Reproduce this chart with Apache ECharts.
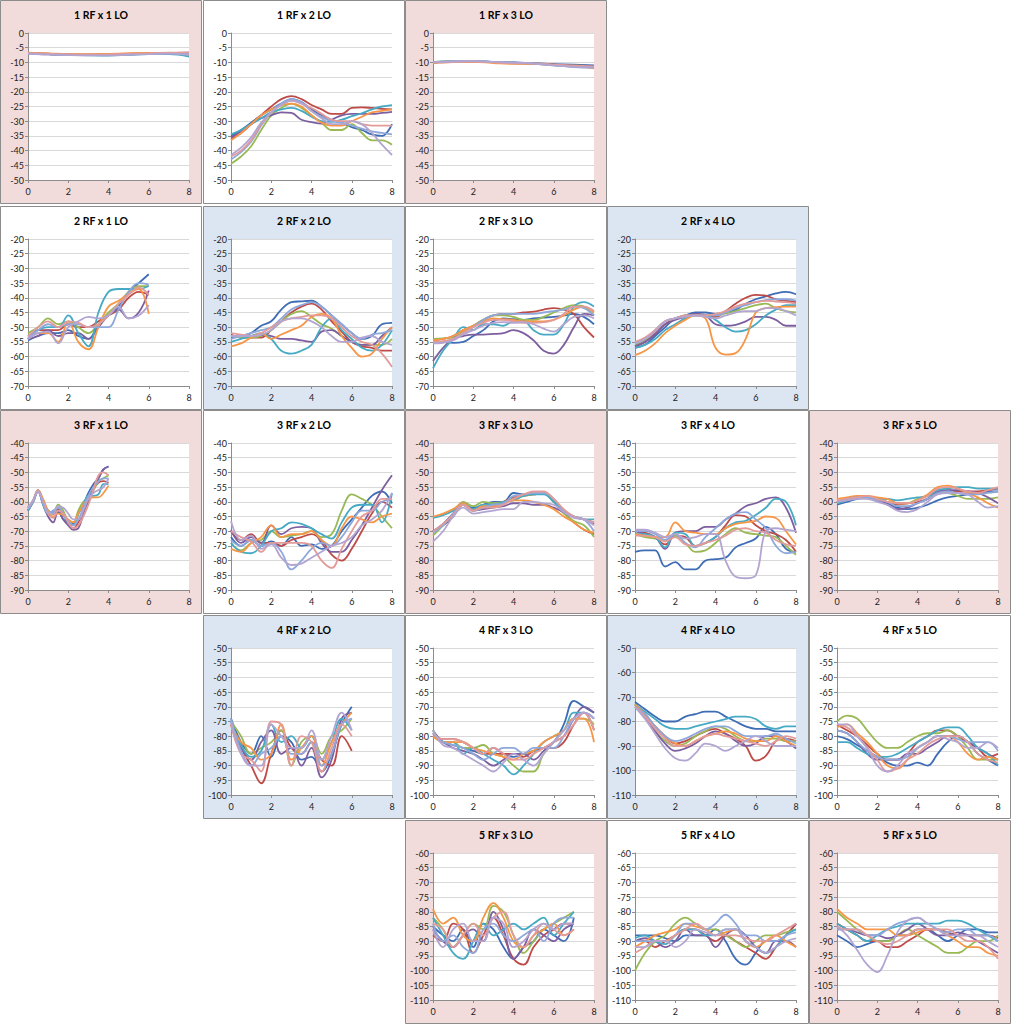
<!DOCTYPE html>
<html><head><meta charset="utf-8">
<script src="https://cdn.jsdelivr.net/npm/echarts@6/dist/echarts.min.js"></script>
<style>html,body{margin:0;padding:0;background:#fff}#c{width:1013px;height:1024px}</style>
</head><body><div id="c"></div>
<script>
// ---------- x values ----------
const X8  = [0,1,2,3,4,5,6,7,8];
const X8H = [0,0.5,1,1.5,2,2.5,3,3.5,4,4.5,5,5.5,6,6.5,7,7.5,8];
const X7H = [0,0.5,1,1.5,2,2.5,3,3.5,4,4.5,5,5.5,6,6.5,7];
const X6H = [0,0.5,1,1.5,2,2.5,3,3.5,4,4.5,5,5.5,6];
const X4Q = [0,0.25,0.5,0.75,1,1.25,1.5,1.75,2,2.25,2.5,2.75,3,3.25,3.5,3.75,4];

// ---------- series values (9 series per panel) ----------
const d11 = [
 [-7,-7.2,-7.4,-7.5,-7.5,-7.3,-7.1,-7,-7],
 [-6.8,-7,-7.3,-7.4,-7.2,-7,-6.9,-6.8,-7.2],
 [-7,-7.2,-7.4,-7.5,-7.5,-7.3,-7,-6.8,-7.5],
 [-7,-7.3,-7.4,-7.4,-7.3,-7.2,-7,-6.8,-6.7],
 [-7,-7.2,-7.4,-7.6,-7.7,-7.4,-7.2,-7.2,-8],
 [-6.7,-6.9,-7.2,-7.2,-7.1,-6.9,-6.8,-6.8,-7.3],
 [-6.9,-7.2,-7.4,-7.5,-7.5,-7.3,-7.1,-6.9,-6.8],
 [-6.9,-7.1,-7.3,-7.4,-7.3,-7.1,-6.9,-6.7,-6.6],
 [-7.1,-7.3,-7.5,-7.6,-7.6,-7.4,-7.2,-7,-7.4]
];
const d12 = [
 [-35,-33,-30.5,-28,-26,-24,-22.5,-23.5,-26,-28,-29.5,-30.5,-32,-33,-34.5,-35,-31],
 [-36,-34,-31,-28,-25,-22.5,-21.5,-22.5,-24.5,-26,-27.5,-27.5,-25.5,-25.3,-25.5,-25.8,-26],
 [-44.5,-42,-38.5,-33,-28,-25.5,-24,-25.5,-28,-30.5,-33,-33,-31,-34,-36.5,-36.5,-38],
 [-35.5,-33.5,-31,-29,-28,-27,-27.2,-29.5,-30.3,-30.8,-29.5,-28,-27.5,-27.5,-27.5,-27.2,-26.8],
 [-34.5,-33,-31,-29,-27,-26,-25.5,-26.5,-28.5,-30,-30.2,-29.5,-28.3,-27.3,-26,-25,-24.5],
 [-36.5,-34,-31,-28,-26,-24.5,-24,-25,-28,-30.5,-31.5,-31.5,-30,-28.5,-27,-26.5,-26],
 [-43,-40.5,-37,-31.5,-27,-24,-22.5,-23.5,-26.5,-28.5,-30,-30.5,-31.5,-32.5,-33.5,-34,-34.5],
 [-42,-40,-36.5,-31,-27,-24.5,-23,-24,-25.5,-27.5,-29.5,-30,-30,-31,-31.5,-31.5,-31.5],
 [-41.5,-39,-35.5,-30.5,-27,-24.5,-23,-24,-26.5,-29,-31,-31,-30,-31,-34,-38,-41.5]
];
const d13 = [
 [-10,-9.7,-9.6,-9.8,-10,-10.3,-10.6,-10.8,-11],
 [-10,-9.7,-9.7,-9.9,-10.2,-10.4,-10.8,-11.2,-11.5],
 [-9.9,-9.6,-9.6,-9.8,-10.1,-10.3,-10.8,-11,-11.3],
 [-10.1,-9.8,-9.7,-9.9,-10.1,-10.3,-10.7,-11,-11.2],
 [-10,-9.7,-9.6,-9.9,-10.2,-10.5,-11,-11.4,-11.5],
 [-10.2,-9.9,-9.8,-10.2,-10.5,-10.5,-10.9,-11.3,-12],
 [-9.9,-9.6,-9.5,-9.8,-10,-10.3,-10.9,-11.6,-11.8],
 [-10,-9.8,-9.7,-10,-10.3,-10.4,-10.8,-11.1,-11.4],
 [-10,-9.7,-9.6,-9.8,-10.1,-10.4,-11,-11.5,-11.6]
];
const d21 = [
 [-54.5,-53,-52,-52,-51,-53,-54,-49,-46,-43,-38,-35,-32],
 [-54,-51,-51,-51,-49,-50,-50,-48,-46,-44,-40,-38,-39],
 [-52,-50,-47,-49,-48,-50,-52,-49,-45,-42,-38,-36,-36],
 [-54,-53,-51,-53,-52,-52,-54,-50,-46,-44,-47,-45,-37.5],
 [-53,-51,-50,-50,-46,-52,-56.5,-45,-38,-37,-37,-37,-36],
 [-54,-52,-52,-55,-48,-55,-57.5,-50,-43,-41,-38.5,-37,-45.5],
 [-53.5,-51,-49,-50,-49,-49,-50,-50,-50,-44,-38,-35,-35.5],
 [-53,-50,-48,-50,-48,-48.5,-50,-49,-46,-42,-39,-36.5,-39],
 [-54,-52,-51.5,-55.5,-50,-48,-46.5,-47,-46,-43,-47,-46,-42.5]
];
const d22 = [
 [-53.5,-53,-52,-49.5,-48,-44,-41.5,-41.2,-41,-43,-46,-49,-52,-54,-53,-49,-48.5],
 [-52.5,-53.5,-53.5,-53.5,-51,-48,-45,-43,-42,-44,-48,-51.5,-55,-56.5,-57,-58,-58],
 [-53,-53.5,-53.5,-53,-51,-48,-45.5,-44.5,-46.5,-49,-50.5,-53,-55,-56,-56,-56,-54],
 [-53,-53,-53,-52.5,-53,-54,-54,-54.5,-55,-51.5,-51,-53,-55,-56,-56,-53,-50],
 [-55,-54,-53,-52,-54,-58,-59,-58,-56,-50,-47,-51,-54,-57,-58,-56,-51],
 [-56.5,-55.5,-53.5,-52,-54,-52.5,-51,-49.5,-46.5,-45.5,-47,-53,-57,-60,-59,-54,-50],
 [-54,-53,-52,-51,-50,-47,-44,-42.5,-41.5,-43,-46,-49,-52,-54,-52.5,-52,-51],
 [-52,-52.5,-53,-52,-50,-48,-47,-46.5,-46,-46,-47,-50,-53,-55,-56,-59,-63.5],
 [-53,-53,-53,-52.5,-51,-48,-47,-47,-48,-50,-53,-55,-55,-53.5,-53,-55,-56]
];
const d23 = [
 [-55,-55,-55.3,-55,-53,-51,-48,-47,-47.3,-47.5,-47,-46.7,-46.5,-46,-45.5,-46.5,-49],
 [-54.5,-54,-53,-51,-49.5,-47.5,-46,-45.5,-45.5,-45,-44.7,-44,-43.5,-44,-45.5,-50,-53.5],
 [-54,-53.8,-53.5,-51.5,-49.5,-47.5,-46,-46,-46.5,-47.5,-47.5,-46.5,-45,-43.5,-42.5,-43,-46],
 [-61.5,-57,-54,-53,-52.5,-52.5,-52.3,-52,-51,-52,-54.5,-58,-59,-56,-50,-45.5,-46],
 [-64,-58,-54,-50,-51,-49,-49,-49.5,-48,-48,-51,-52.5,-52.5,-49,-43,-41.5,-43],
 [-54.5,-54,-53,-51,-49.5,-48,-47,-47.3,-47.5,-48,-48,-48,-47.5,-46,-44,-43,-45],
 [-55,-55,-54,-52,-50,-47.5,-46,-45.5,-45.5,-45.5,-45.5,-45,-44.5,-44,-43,-43.5,-46],
 [-55,-54.7,-54,-52,-50,-48.5,-47.5,-47.5,-48,-48.5,-48.5,-48.3,-47.5,-45.5,-43,-43,-44.5],
 [-55.5,-55.3,-54.5,-52.5,-51,-49.5,-48.5,-48.3,-48.5,-48.3,-49,-50.5,-51.5,-49,-46.5,-46,-47]
];
const d24 = [
 [-57,-56,-53,-50,-47,-46,-45,-45,-45.5,-45,-44,-42,-40.5,-39.5,-38.5,-38,-38.8],
 [-56.5,-55,-52,-49,-47,-46.5,-45.5,-46,-46.5,-44.5,-42,-40,-39,-39.3,-40.5,-41,-41.5],
 [-56,-54.5,-51,-48,-47,-46,-46,-46,-46,-45.3,-44.5,-43.5,-42.5,-42,-43.5,-44.5,-45],
 [-56.5,-55,-52.5,-49,-47.5,-46.5,-45.5,-46,-49,-49.5,-49.2,-48,-46.5,-46.5,-47.5,-49.5,-49.5],
 [-57,-56,-54,-51,-49,-47,-46,-46,-47.5,-50,-51.5,-51,-49,-46,-44,-42.5,-42.5],
 [-59.5,-58,-55.5,-52,-49.5,-47.5,-46,-47,-57,-59.3,-58.8,-54,-45,-43.5,-43.2,-43,-43],
 [-55.5,-54,-51,-48,-47,-46,-46,-46,-46,-45,-43.5,-42.5,-41.5,-40.8,-40.5,-40.5,-41],
 [-55,-53.5,-51,-48,-47,-46,-46,-46,-45.5,-44.5,-43,-42,-41.5,-41,-41.3,-41.5,-42],
 [-55.5,-54,-51.5,-48,-47,-46.5,-46,-46.5,-47,-46,-45,-44.5,-44.5,-43.5,-43.5,-44.5,-46]
];
const d31 = [
 [-63,-60,-56,-60,-63,-64,-63.5,-66,-67,-67.5,-64,-61,-57,-54,-52,-49,-48],
 [-62,-60,-56,-60,-63.5,-64,-62.5,-64,-67,-69,-67,-63,-60,-56,-53.5,-53,-53.5],
 [-62,-60,-56,-60,-63,-63.5,-61,-63,-66.5,-67,-63,-60,-59,-56,-53,-52,-51],
 [-63,-60,-56.5,-61,-65,-67,-63,-66,-68,-69.5,-69,-64,-59,-55,-52,-49,-48],
 [-63,-60,-56,-61,-64,-63.5,-62,-64.5,-67,-68,-64,-61,-58,-58,-57.5,-54,-54],
 [-62,-59.5,-56,-59,-63,-65,-64,-64.5,-66,-67,-64,-61,-59,-58.5,-58.5,-57,-54.5],
 [-62.5,-60,-56.5,-60.5,-64,-63,-62,-64,-66.5,-68,-66,-62,-58,-55,-53,-52,-52],
 [-62,-59.5,-56,-60,-64,-65.5,-63,-64,-67,-69,-68,-65,-61,-56,-51,-50,-51],
 [-62,-59.5,-56.5,-60,-63.5,-64,-61.5,-62,-64,-66,-66,-63,-59,-57,-56,-55,-52]
];
const d32 = [
 [-72,-75,-73,-75,-73.5,-75,-72,-75,-74.5,-76,-75,-70,-66,-62,-58,-56.5,-60.5],
 [-70,-73,-71,-74,-74,-75,-73,-72,-71,-73,-78,-80,-76,-70,-64,-60,-62],
 [-74,-76.5,-74,-73,-70,-72,-71.5,-71,-70,-72,-71,-63,-57.5,-59,-61,-65,-69],
 [-69.5,-74,-72,-74,-68,-71,-69,-68.5,-69,-74,-77,-77,-73,-68,-62,-56,-51],
 [-74,-77,-77.5,-75,-70,-69,-67,-67.5,-69,-71,-72.5,-67,-62,-61,-61,-67,-57],
 [-76,-77,-74,-72,-68,-72,-71,-71,-70,-73,-75,-69,-65,-66,-67,-65,-64],
 [-73,-75,-73,-75,-74,-77,-83,-80,-76,-74,-75,-72,-67,-63,-63,-60,-59],
 [-70,-72,-73.5,-77,-74,-74,-74,-74,-75,-80,-82.5,-76,-70,-65,-63,-59,-59],
 [-66.5,-73,-71.5,-76,-74.5,-79,-81.5,-81,-79,-77,-75,-74,-72,-68,-66,-63,-57]
];
const d33 = [
 [-70,-68,-65,-61,-62,-61,-60,-60,-57,-57.5,-57,-57,-60,-63,-65,-66,-67],
 [-70,-68,-64.5,-61,-62.5,-62,-61.5,-60,-58.5,-58,-57.5,-57,-60,-63.5,-67,-69.5,-71],
 [-71.5,-68,-64,-60,-61.5,-60,-60.5,-60,-59,-58,-57.5,-57,-60,-64,-66.5,-68,-72],
 [-70,-67.5,-64,-61,-63,-62.5,-62,-61.5,-60.5,-60.5,-61,-61,-62,-63.5,-65,-66,-67.5],
 [-65.5,-64.5,-63,-60.5,-62.5,-61,-61,-60,-59.5,-58,-57.5,-57.5,-60,-63,-65,-66,-66],
 [-65,-64,-62.5,-60.5,-63,-61.5,-61.5,-60.5,-59.5,-59.5,-60,-61,-62.5,-65,-67,-69.5,-70.5],
 [-70.5,-68,-64,-61,-63,-62,-61,-60.5,-58,-57.5,-57,-57,-59,-63,-65,-66,-70],
 [-70,-67.5,-64.5,-61,-63,-62,-62,-61,-59,-57.5,-56.5,-56.5,-59,-62.5,-65,-66,-67],
 [-73.5,-70,-65,-62,-64,-63.5,-63,-62.5,-62.5,-60,-60,-60.5,-61,-63.5,-65.5,-66,-68]
];
const d34 = [
 [-77,-76.5,-76.5,-82,-80.5,-83,-83,-80,-79.5,-79,-75.5,-74,-72.5,-68.5,-71,-76,-77],
 [-70,-70.5,-72,-74.5,-71.5,-72,-75,-74,-72,-68,-64.5,-65,-68,-70,-71,-73,-77],
 [-71,-72,-72.5,-73,-71.5,-74,-77,-76.5,-74,-71,-69,-70.5,-71,-71.5,-72,-75,-78],
 [-70,-71,-72,-76,-70.5,-70,-70,-68.5,-68.5,-66,-64,-61.5,-60.5,-59,-58.5,-62,-70.5],
 [-71,-71,-72,-75.5,-70.5,-71,-75,-74,-72,-69,-67,-66.5,-64.5,-62,-59,-60,-68],
 [-71,-71.5,-72,-72,-67,-70,-70.5,-71,-71,-69,-67.5,-67,-66.5,-65,-65.5,-70,-74.5],
 [-70,-70,-71,-73,-71,-74,-75.5,-72,-69,-66,-64,-63.5,-66,-69,-75,-77.5,-77],
 [-71.5,-71.5,-72,-73.5,-72,-74.5,-75,-74,-73,-71.5,-69.5,-69,-70,-70.5,-73,-74.5,-75],
 [-69.5,-69.5,-70.5,-72,-71,-72.5,-72,-71,-71,-80,-85.5,-86,-85,-70,-69,-69.5,-70]
];
const d35 = [
 [-61,-60,-59,-58.5,-59.5,-60.5,-62,-62.5,-62,-61,-59.5,-58.5,-58,-57.5,-57,-56.5,-56.5],
 [-60,-59,-58.5,-58.5,-59.5,-60,-61,-60.5,-60,-59,-57,-56,-56.5,-56.5,-56.5,-56,-55.5],
 [-60,-59,-58.5,-58.5,-59,-59,-60.5,-60.5,-59,-58,-57,-57,-58,-59,-59,-59,-58.5],
 [-60,-59,-58.5,-58.5,-59.5,-61,-62.5,-62,-60.5,-59,-56.5,-56,-56,-56.5,-57,-58.5,-60.5],
 [-60.5,-59.5,-58.5,-58.5,-59,-59,-59.5,-59,-58.5,-58,-56,-55.5,-55,-55,-55.5,-55.5,-55.5],
 [-59,-58.5,-58,-58,-58.5,-59,-60.5,-60.5,-59.5,-57.5,-55,-54.5,-55.5,-57,-58.5,-60.5,-62],
 [-60,-59,-58.5,-58.5,-59.5,-60,-61.5,-61.5,-60.5,-59,-57,-56.5,-57,-57.5,-57.5,-57,-56.5],
 [-59.5,-59,-58.5,-58,-59,-60,-60.5,-60.5,-59.5,-58,-55.5,-55,-55.5,-56.5,-57,-56,-55],
 [-60,-59.5,-59,-59,-60,-61,-63,-63.5,-62.5,-60,-57.5,-57,-57,-57.5,-60,-62,-61.5]
];
const d42 = [
 [-74,-82,-86,-80,-87,-80,-82,-88,-87,-92,-86,-76,-70],
 [-76,-84,-90,-96,-86,-78,-84,-86,-82,-88,-90,-80,-85],
 [-75,-80,-86,-84,-82,-78,-90,-82,-80,-86,-80,-78,-74],
 [-76,-84,-88,-82,-78,-86,-84,-90,-84,-94,-88,-74,-72],
 [-75,-83,-87,-85,-76,-82,-80,-84,-80,-88,-82,-74,-78],
 [-76,-82,-84,-88,-86,-76,-88,-84,-80,-90,-82,-76,-72],
 [-74,-85,-90,-86,-84,-80,-86,-86,-82,-90,-86,-76,-74],
 [-76,-86,-88,-92,-75,-76,-90,-80,-82,-92,-84,-76,-80],
 [-75,-86,-90,-90,-76,-80,-84,-84,-78,-88,-80,-72,-78]
];
const d43 = [
 [-78,-82,-83,-84,-85,-86,-84,-86,-87,-86,-85,-84,-82,-76,-68,-70,-72],
 [-79,-81,-81,-82,-84,-86,-86,-86,-86,-87,-85,-84,-84,-82,-76,-72,-78],
 [-78,-82,-82,-84,-84,-83,-86,-87,-90,-92,-92,-86,-82,-78,-74,-74,-76],
 [-80,-82,-84,-85,-86,-88,-90,-88,-86,-86,-88,-85,-82,-80,-74,-70,-72],
 [-79,-82,-82,-86,-84,-86,-88,-90,-93,-90,-86,-82,-80,-78,-72,-72,-74],
 [-80,-82,-82,-82,-84,-85,-86,-87,-88,-86,-85,-82,-80,-78,-74,-74,-82],
 [-79,-82,-83,-84,-86,-88,-86,-84,-84,-86,-84,-84,-84,-80,-74,-72,-74],
 [-79,-81,-81,-82,-84,-86,-84,-86,-88,-88,-86,-84,-82,-80,-76,-72,-78],
 [-78,-83,-84,-86,-88,-90,-92,-89,-86,-88,-90,-86,-82,-78,-74,-72,-74]
];
const d44 = [
 [-72,-75,-78,-80,-80,-78,-77,-76,-76,-78,-80,-82,-83,-83,-84,-84,-84],
 [-73,-77,-82,-86,-89,-88,-86,-84,-83,-85,-87,-90,-96,-94,-88,-87,-88],
 [-73,-78,-84,-88,-90,-89,-86,-84,-82,-83,-86,-88,-88,-87,-87,-88,-88],
 [-74,-78,-84,-89,-92,-91,-89,-86,-84,-85,-88,-90,-89,-86,-86,-88,-91],
 [-73,-76,-79,-82,-83,-83,-82,-81,-80,-79,-78,-78,-79,-82,-83,-82,-82],
 [-73,-77,-82,-86,-89,-90,-88,-86,-85,-84,-85,-87,-88,-88,-86,-88,-90],
 [-74,-77,-82,-86,-88,-87,-85,-83,-82,-82,-84,-86,-86,-86,-85,-87,-89],
 [-74,-78,-83,-87,-90,-90,-88,-86,-85,-86,-87,-88,-89,-90,-88,-86,-87],
 [-74,-79,-85,-91,-95,-96,-93,-89,-90,-92,-90,-88,-86,-88,-90,-90,-90]
];
const d45 = [
 [-80,-81,-83,-85,-87,-89,-90,-90,-89,-90,-86,-82,-80,-82,-86,-88,-90],
 [-76,-78,-80,-83,-86,-88,-88,-86,-82,-80,-78,-78,-80,-82,-84,-87,-86],
 [-75,-73,-74,-78,-82,-84,-84,-82,-80,-79,-79,-78,-80,-84,-88,-88,-88],
 [-78,-79,-82,-86,-88,-88,-88,-86,-86,-84,-82,-80,-80,-82,-84,-86,-88],
 [-82,-82,-84,-86,-87,-87,-86,-84,-82,-80,-78,-77,-77,-80,-84,-86,-90],
 [-77,-76,-79,-82,-86,-90,-91,-88,-84,-82,-80,-80,-82,-86,-88,-87,-88],
 [-78,-79,-82,-85,-87,-88,-88,-87,-84,-82,-80,-80,-81,-82,-82,-82,-85],
 [-76,-77,-80,-84,-88,-92,-91,-88,-86,-83,-81,-80,-80,-82,-86,-88,-89],
 [-76,-76,-80,-84,-90,-92,-90,-86,-84,-82,-80,-81,-82,-84,-84,-82,-84]
];
const d53 = [
 [-85,-88,-90,-86,-92,-84,-86,-92,-96,-92,-90,-86,-88,-90,-82],
 [-88,-90,-84,-86,-94,-88,-82,-88,-96,-98,-92,-88,-86,-84,-84],
 [-82,-86,-92,-88,-84,-86,-78,-80,-88,-94,-90,-86,-84,-82,-80],
 [-86,-90,-92,-88,-86,-90,-80,-86,-96,-92,-86,-88,-90,-86,-84],
 [-82,-88,-94,-96,-90,-84,-88,-86,-84,-86,-84,-82,-88,-84,-80],
 [-79,-84,-82,-88,-90,-82,-77,-82,-90,-92,-88,-86,-84,-88,-86],
 [-84,-90,-88,-92,-94,-86,-84,-88,-90,-88,-86,-90,-84,-82,-82],
 [-84,-86,-92,-88,-84,-88,-82,-80,-88,-92,-88,-84,-86,-88,-86],
 [-86,-92,-86,-84,-90,-90,-82,-84,-92,-90,-86,-84,-86,-84,-84]
];
const d54 = [
 [-88,-88,-88,-89,-90,-88,-88,-88,-86,-90,-96,-98,-94,-90,-90,-88,-84],
 [-90,-90,-92,-90,-88,-86,-86,-88,-90,-88,-90,-92,-94,-96,-92,-88,-84],
 [-100,-94,-90,-88,-84,-82,-84,-86,-86,-88,-90,-92,-90,-88,-88,-87,-86],
 [-90,-89,-90,-92,-90,-86,-88,-88,-92,-88,-86,-88,-92,-94,-90,-90,-92],
 [-89,-88,-90,-91,-88,-86,-86,-88,-88,-86,-86,-90,-92,-94,-92,-88,-86],
 [-92,-90,-88,-87,-86,-84,-85,-86,-88,-87,-86,-90,-92,-90,-88,-90,-92],
 [-90,-90,-90,-90,-88,-84,-84,-86,-84,-81,-84,-88,-88,-90,-90,-88,-87],
 [-94,-92,-90,-90,-88,-86,-84,-86,-88,-88,-88,-89,-90,-90,-88,-86,-84],
 [-92,-92,-90,-90,-92,-90,-86,-87,-88,-86,-86,-90,-92,-94,-92,-90,-89]
];
const d55 = [
 [-88,-90,-92,-91,-90,-90,-88,-88,-86,-86,-88,-90,-88,-86,-86,-87,-87],
 [-84,-86,-88,-90,-90,-92,-92,-90,-88,-86,-86,-87,-88,-88,-88,-88,-89],
 [-80,-83,-86,-88,-90,-90,-88,-86,-88,-90,-92,-94,-94,-92,-90,-90,-88],
 [-86,-86,-87,-88,-88,-89,-88,-86,-84,-86,-88,-88,-87,-88,-90,-92,-94],
 [-84,-86,-88,-90,-88,-86,-85,-84,-84,-84,-84,-83,-83,-84,-86,-88,-90],
 [-79,-82,-84,-86,-86,-86,-88,-88,-87,-86,-86,-88,-90,-92,-92,-94,-95],
 [-86,-86,-86,-88,-88,-86,-84,-83,-82,-84,-86,-87,-86,-86,-88,-88,-90],
 [-85,-86,-86,-88,-90,-91,-90,-88,-86,-86,-86,-86,-88,-90,-90,-92,-96],
 [-85,-88,-93,-98,-100.5,-95,-87,-83,-82,-84,-86,-88,-88,-88,-88,-90,-92]
];

// ---------- panel labels / axis ranges ----------
const titles = ['1 RF x 1 LO','1 RF x 2 LO','1 RF x 3 LO',
  '2 RF x 1 LO','2 RF x 2 LO','2 RF x 3 LO','2 RF x 4 LO',
  '3 RF x 1 LO','3 RF x 2 LO','3 RF x 3 LO','3 RF x 4 LO','3 RF x 5 LO',
  '4 RF x 2 LO','4 RF x 3 LO','4 RF x 4 LO','4 RF x 5 LO',
  '5 RF x 3 LO','5 RF x 4 LO','5 RF x 5 LO'];
const yRanges = [[-50,0,5],[-50,0,5],[-50,0,5],
  [-70,-20,5],[-70,-20,5],[-70,-20,5],[-70,-20,5],
  [-90,-40,5],[-90,-40,5],[-90,-40,5],[-90,-40,5],[-90,-40,5],
  [-100,-50,5],[-100,-50,5],[-110,-50,10],[-100,-50,5],
  [-110,-60,5],[-110,-60,5],[-110,-60,5]];
const panelData = [d11,d12,d13,d21,d22,d23,d24,d31,d32,d33,d34,d35,d42,d43,d44,d45,d53,d54,d55];
const panelX = [X8,X8H,X8,X6H,X8H,X8H,X8H,X4Q,X8H,X8H,X8H,X8H,X6H,X8H,X8H,X8H,X7H,X8H,X8H];

// ---------- layout & style ----------
const PINK='#F2DCDB', BLUE='#DCE6F2', WHITE='#FFFFFF';
const cells = [[0,0,PINK],[0,1,WHITE],[0,2,PINK],
  [1,0,WHITE],[1,1,BLUE],[1,2,WHITE],[1,3,BLUE],
  [2,0,PINK],[2,1,WHITE],[2,2,PINK],[2,3,WHITE],[2,4,PINK],
  [3,1,BLUE],[3,2,WHITE],[3,3,BLUE],[3,4,WHITE],
  [4,2,PINK],[4,3,WHITE],[4,4,PINK]];
const colX=[0,203,405,607,809], rowY=[0,206,410,615,820];
const COLORS=['#3E6DB5','#BE4B48','#98B954','#7D5FA0','#46AAC5','#F79646','#8EA8DB','#E39B99','#B3A5D1'];
const FONT='Lato, "Noto Sans", sans-serif';

const graphic=[], grid=[], xAxis=[], yAxis=[], series=[];
cells.forEach((c,i)=>{
  const px=colX[c[1]], py=rowY[c[0]];
  graphic.push({type:'rect', z:-10, silent:true, shape:{x:px+0.5,y:py+0.5,width:201,height:203},
    style:{fill:c[2], stroke:'#8C8C8C', lineWidth:1}});
  graphic.push({type:'text', z:10, silent:true, x:px+101, y:py+9,
    style:{text:titles[i], fill:'#000', font:'bold 10.5px '+FONT, textAlign:'center', textVerticalAlign:'top'}});
  grid.push({left:px+28, top:py+33, width:161, height:147, show:true, backgroundColor:'#fff', borderWidth:0});
  xAxis.push({type:'value', gridIndex:i, min:0, max:8, interval:2,
    axisLine:{show:true, onZero:false, lineStyle:{color:'#8C8C8C'}},
    axisTick:{show:true, length:3, lineStyle:{color:'#8C8C8C'}},
    axisLabel:{fontSize:9, color:'#222', margin:7, fontFamily:FONT},
    splitLine:{show:false}});
  const yr=yRanges[i];
  yAxis.push({type:'value', gridIndex:i, min:yr[0], max:yr[1], interval:yr[2],
    axisLine:{show:true, lineStyle:{color:'#8C8C8C'}},
    axisTick:{show:true, length:3, lineStyle:{color:'#8C8C8C'}},
    axisLabel:{fontSize:9, color:'#222', margin:4, fontFamily:FONT},
    splitLine:{show:true, lineStyle:{color:'#D9D9D9', width:1}}});
  const xs=panelX[i];
  panelData[i].forEach((vals,k)=>{
    series.push({type:'line', xAxisIndex:i, yAxisIndex:i, smooth:0.4, showSymbol:false, symbol:'none',
      lineStyle:{width:1.8, color:COLORS[k]}, itemStyle:{color:COLORS[k]},
      data: vals.map((v,j)=>[xs[j], v])});
  });
});

const chart = echarts.init(document.getElementById('c'), null, {renderer:'svg'});
chart.setOption({animation:false, backgroundColor:'#fff', graphic, grid, xAxis, yAxis, series});
</script></body></html>
